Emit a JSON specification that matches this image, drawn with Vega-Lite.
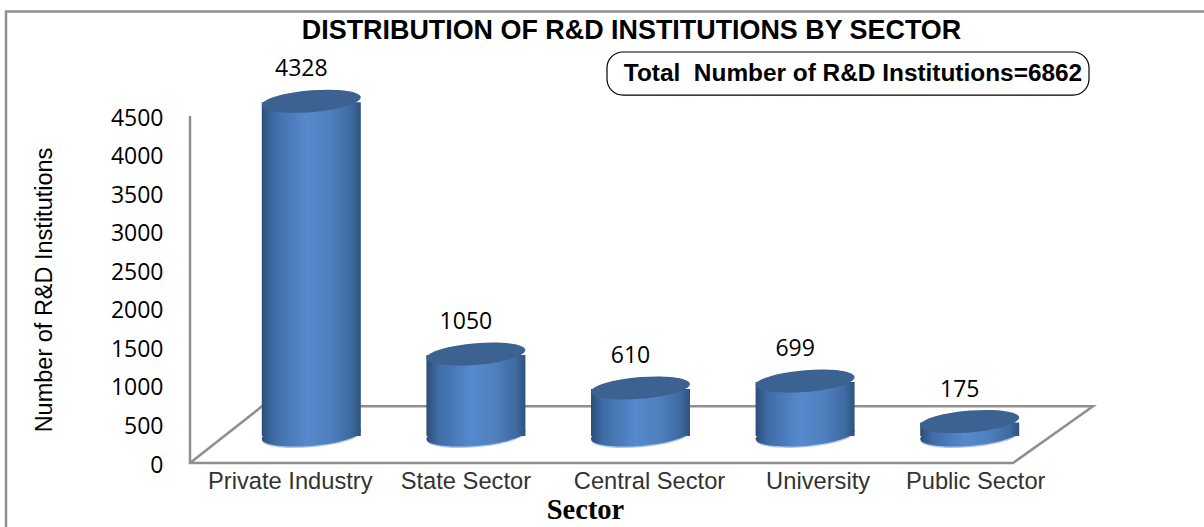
{
"$schema":"https://vega.github.io/schema/vega-lite/v6.json",
"width":903,"height":347,
"autosize":{"type":"none"},
"padding":{"left":190,"top":116,"right":111,"bottom":64},
"background":"white",
"config":{"view":{"stroke":null}},
"title":{"text":"DISTRIBUTION OF R&D INSTITUTIONS BY SECTOR","font":"Liberation Sans","fontSize":26.9,"fontWeight":"bold","color":"#000000","anchor":"middle","frame":"group","dx":-10,"offset":-59,"baseline":"alphabetic"},
"datasets":{
"sectors":[
{"sector":"Private Industry","count":4328},
{"sector":"State Sector","count":1050},
{"sector":"Central Sector","count":610},
{"sector":"University","count":699},
{"sector":"Public Sector","count":175}],
"outline":[
{"part":"frame","step":1,"h":-184,"v":-830},
{"part":"frame","step":2,"h":-184,"v":5855},
{"part":"frame","step":3,"h":1014,"v":5855},
{"part":"axis","step":1,"h":0,"v":4500},
{"part":"axis","step":2,"h":0,"v":0},
{"part":"axis","step":3,"h":823,"v":0},
{"part":"axis","step":4,"h":903,"v":735},
{"part":"axis","step":5,"h":72,"v":735},
{"part":"axis","step":6,"h":0,"v":0}],
"note":[{"label":"Total\u00a0 Number of R&D Institutions=6862"}]
},
"layer":[
{"layer":[
{"data":{"name":"outline"},
"mark":{"type":"line","color":"#8f8f8f","strokeWidth":2.5},
"encoding":{
"x":{"field":"h","type":"quantitative","scale":{"domain":[0,903],"nice":false,"zero":false},"axis":null},
"y":{"field":"v","type":"quantitative","scale":{"domain":[0,4500],"nice":false,"zero":false},"axis":null},
"detail":{"field":"part"},
"order":{"field":"step","type":"quantitative"}}},
{"data":{"name":"note"},
"mark":{"type":"rect","fill":"white","stroke":"#000000","strokeWidth":1.2,"cornerRadius":16},
"encoding":{
"x":{"datum":417,"type":"quantitative","axis":null},
"x2":{"datum":899},
"y":{"datum":5330,"type":"quantitative","axis":null},
"y2":{"datum":4772}}},
{"data":{"name":"note"},
"mark":{"type":"text","font":"Liberation Sans","fontSize":24.4,"fontWeight":"bold","color":"#000000","align":"center","baseline":"middle"},
"encoding":{
"x":{"datum":663,"type":"quantitative","axis":null},
"y":{"datum":5040,"type":"quantitative","axis":null},
"text":{"field":"label"}}}
]},
{"data":{"name":"sectors"},
"encoding":{
"x":{"field":"sector","type":"nominal","sort":null,
"scale":{"type":"band","range":[39,862],"paddingInner":0,"paddingOuter":0},
"axis":{"title":"Sector","titleFont":"Liberation Serif","titleFontSize":28.5,"titleFontWeight":"bold","titleColor":"#000000","titleX":395,"titleY":55,"titleBaseline":"alphabetic",
"domain":false,"ticks":false,"labelAngle":0,"labelFont":"Liberation Sans","labelFontSize":23.7,"labelColor":"#333333","labelPadding":6,"labelOverlap":false,"labelBound":false,"labelFlush":false,"labelLimit":0,
"labelOffset":{"expr":"datum.value=='Private Industry'?-21:datum.value=='State Sector'?-10:datum.value=='Central Sector'?9:datum.value=='University'?13:6"}}},
"y":{"field":"count","type":"quantitative",
"scale":{"domain":[0,4500],"nice":false,"zero":false},
"axis":{"values":[0,500,1000,1500,2000,2500,3000,3500,4000,4500],"format":"d","grid":false,"domain":false,"ticks":false,"labelFont":"Open Sans","labelFontSize":23,"labelColor":"#000000","labelPadding":27,"labelOffset":2,
"title":"Number of R&D Institutions","titleFont":"Liberation Sans","titleFontSize":23.5,"titleFontWeight":"normal","titleColor":"#000000","titleX":-134,"titleBaseline":"bottom"}}
},
"layer":[
{"mark":{"type":"point","filled":true,"opacity":1,"yOffset":-26.5,"color":"#a9c6ef",
"shape":"M-1,.08C-1,-.04,-.552,-.176,0,-.22C.552,-.264,1,-.2,1,-.08C1,.04,.552,.176,0,.22C-.552,.264,-1,.2,-1,.08Z",
"size":9604},
"encoding":{"y":{"datum":0,"type":"quantitative"}}},
{"mark":{"type":"point","filled":true,"opacity":1,"yOffset":-28,
"shape":"M-1,.08C-1,-.04,-.552,-.176,0,-.22C.552,-.264,1,-.2,1,-.08C1,.04,.552,.176,0,.22C-.552,.264,-1,.2,-1,.08Z",
"size":9801,
"fill":{"gradient":"linear","x1":0,"x2":1,"y1":0,"y2":0,"stops":[{"offset":0,"color":"#2c4d78"},{"offset":0.12,"color":"#3f6ca6"},{"offset":0.45,"color":"#5689cd"},{"offset":0.7,"color":"#4f7fbe"},{"offset":0.9,"color":"#3f6aa2"},{"offset":1,"color":"#2f5280"}]}},
"encoding":{"y":{"datum":0,"type":"quantitative"}}},
{"mark":{"type":"bar","width":99,"yOffset":-27,"y2Offset":-30,
"fill":{"gradient":"linear","x1":0,"x2":1,"y1":0,"y2":0,"stops":[{"offset":0,"color":"#2c4d78"},{"offset":0.12,"color":"#3f6ca6"},{"offset":0.45,"color":"#5689cd"},{"offset":0.7,"color":"#4f7fbe"},{"offset":0.9,"color":"#3f6aa2"},{"offset":1,"color":"#2f5280"}]}}},
{"mark":{"type":"point","filled":true,"opacity":1,"color":"#3c6291","yOffset":-28,
"shape":"M-1,.08C-1,-.04,-.552,-.176,0,-.22C.552,-.264,1,-.2,1,-.08C1,.04,.552,.176,0,.22C-.552,.264,-1,.2,-1,.08Z",
"size":9801}},
{"mark":{"type":"text","font":"Open Sans","fontSize":23,"color":"#000000","align":"center","baseline":"middle","dx":-10,"dy":-60},
"encoding":{"text":{"field":"count","type":"quantitative","format":"d"}}}
]}
],
"resolve":{"scale":{"x":"independent"},"axis":{"x":"independent","y":"independent"}}
}
